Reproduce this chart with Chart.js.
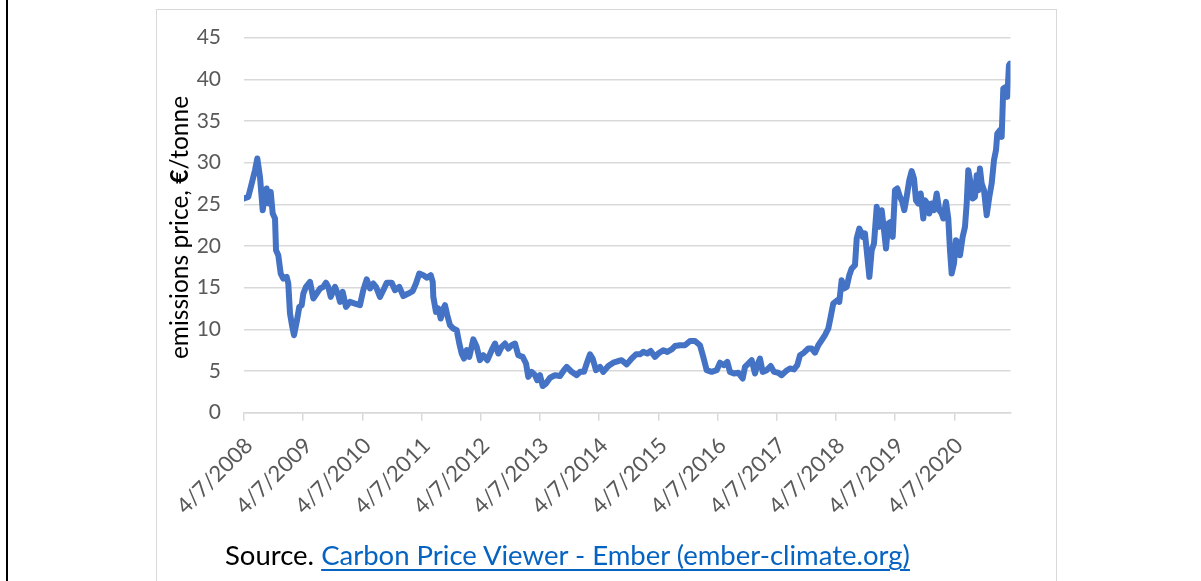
<!DOCTYPE html>
<html><head><meta charset="utf-8">
<script src="https://cdn.jsdelivr.net/npm/chart.js@4.4.1/dist/chart.umd.min.js"></script>
<style>
html,body{margin:0;padding:0;background:#fff;width:1201px;height:581px;overflow:hidden;font-family:Lato,sans-serif;}
#leftline{position:absolute;left:6px;top:0;width:2px;height:581px;background:#000;}
#frame{position:absolute;left:156px;top:9px;width:901px;height:640px;border:1px solid #d9d9d9;box-sizing:border-box;}
#source{position:absolute;left:225px;top:541px;font-size:27.5px;line-height:1;color:#000;white-space:nowrap;font-family:Lato,sans-serif;}
#source a{color:#0563C1;text-decoration:underline;text-underline-offset:4px;text-decoration-thickness:2px;}
#c{position:absolute;left:0;top:0;}
</style></head>
<body>
<div id="leftline"></div>
<div id="frame"></div>
<canvas id="c" width="1201" height="581"></canvas>
<div id="source">Source. <a href="#">Carbon Price Viewer - Ember (ember-climate.org)</a></div>
<script>
// Tick labels (one per year, anniversary of the first date)
const tickLabels = ['4/7/2008','4/7/2009','4/7/2010','4/7/2011','4/7/2012','4/7/2013','4/7/2014','4/7/2015','4/7/2016','4/7/2017','4/7/2018','4/7/2019','4/7/2020'];
// Decimal-year dates of the price points
const dates = [
2008.265,2008.338,2008.395,2008.451,2008.490,2008.535,2008.581,2008.615,2008.648,2008.682,2008.716,2008.750,2008.789,2008.806,2008.844,2008.885,2008.929,2008.986,2009.013,2009.042,2009.081,2009.110,2009.155,2009.199,2009.240,2009.267,2009.312,2009.380,2009.436,2009.493,2009.549,2009.605,2009.650,2009.689,2009.730,2009.802,2009.858,2009.887,2009.932,2009.988,2010.056,2010.140,2010.224,2010.280,2010.338,2010.393,2010.449,2010.495,2010.562,2010.618,2010.676,2010.760,2010.816,2010.888,2010.956,
2011.040,2011.115,2011.170,2011.226,2011.294,2011.351,2011.419,2011.453,2011.463,2011.508,2011.547,2011.588,2011.621,2011.660,2011.699,2011.745,2011.800,2011.858,2011.902,2011.942,2011.981,2012.027,2012.071,2012.138,2012.196,2012.251,2012.307,2012.375,2012.449,2012.505,2012.561,2012.618,2012.674,2012.730,2012.787,2012.843,2012.898,2012.973,2013.029,2013.067,2013.125,2013.181,2013.219,2013.265,2013.311,2013.366,2013.434,2013.518,2013.603,2013.670,
2013.716,2013.800,2013.885,2013.941,2014.008,2014.054,2014.110,2014.155,2014.211,2014.279,2014.334,2014.419,2014.503,2014.588,2014.645,2014.730,2014.814,2014.887,2014.954,2015.010,2015.078,2015.135,2015.208,2015.263,2015.348,2015.415,2015.490,2015.545,2015.630,2015.714,2015.799,2015.883,2015.968,2016.023,2016.081,2016.165,2016.250,
2016.306,2016.373,2016.429,2016.474,2016.542,2016.615,2016.689,2016.728,2016.784,2016.841,2016.897,2016.936,2016.981,2017.027,2017.094,2017.162,2017.218,2017.290,2017.348,2017.420,2017.488,2017.556,2017.611,2017.657,2017.724,2017.797,2017.855,2017.910,2017.966,2018.023,2018.079,2018.135,2018.175,2018.219,2018.287,2018.321,2018.361,2018.400,2018.446,2018.490,2018.530,2018.586,2018.615,2018.659,2018.699,2018.716,2018.755,2018.795,2018.829,2018.868,2018.907,2018.953,2018.996,
2019.037,2019.076,2019.110,2019.148,2019.189,2019.223,2019.262,2019.301,2019.346,2019.385,2019.419,2019.459,2019.503,2019.544,2019.583,2019.616,2019.655,2019.696,2019.740,2019.768,2019.807,2019.841,2019.881,2019.920,2019.966,2020.010,2020.050,2020.078,2020.123,2020.162,2020.191,2020.219,2020.258,2020.292,2020.331,2020.360,2020.405,2020.444,2020.473,2020.500,2020.540,2020.574,2020.613,2020.642,2020.669,2020.697,2020.726,2020.765,2020.811,2020.855,2020.895,2020.934,2020.968,2020.990,2021.035,2021.064,2021.091,2021.137,2021.159,2021.187,2021.204
];
// Emissions price, EUR/tonne
const prices = [
25.7,25.9,27.5,29.1,30.5,28.3,24.3,25.9,26.9,25.1,26.5,23.9,23.3,19.5,18.9,16.7,16.1,16.3,15.5,11.9,10.3,9.3,10.9,12.7,12.9,14.3,15.1,15.7,13.7,14.3,14.9,15.1,15.6,15.1,13.9,15.1,14.1,13.3,14.5,12.7,13.3,13.1,12.9,14.7,16.0,14.9,15.5,15.1,13.9,14.7,15.6,15.6,14.7,15.1,14.0,
14.3,14.6,15.5,16.7,16.5,16.2,16.5,15.7,13.9,12.1,12.5,11.3,12.3,12.9,11.7,10.5,10.1,9.9,8.3,7.1,6.5,7.5,6.7,8.8,7.9,6.3,6.9,6.3,7.5,8.3,7.1,7.9,8.3,7.7,8.1,8.3,6.9,6.7,5.9,4.3,4.9,4.5,3.9,4.5,3.2,3.5,4.2,4.5,4.4,5.1,
5.5,4.9,4.5,4.9,4.9,5.9,7.0,6.5,5.1,5.5,4.9,5.6,6.0,6.2,6.3,5.8,6.5,7.0,7.0,7.3,7.1,7.4,6.7,7.1,7.5,7.3,7.6,8.0,8.1,8.1,8.6,8.6,8.1,6.7,5.1,4.9,5.1,
6.0,5.7,6.1,4.9,4.7,4.8,4.1,5.5,5.9,6.3,4.7,5.7,6.5,4.9,5.1,5.6,4.9,4.8,4.5,5.0,5.3,5.2,5.7,6.9,7.2,7.7,7.7,7.2,8.1,8.7,9.3,10.1,11.5,13.1,13.5,13.3,15.9,14.9,15.1,16.5,17.3,17.7,20.9,22.1,21.5,21.1,21.5,18.7,16.3,19.5,20.3,24.7,22.3,
24.3,21.9,19.7,22.7,22.9,21.1,26.7,26.9,25.9,25.3,24.3,25.9,27.9,29.0,28.1,25.5,25.1,26.3,23.3,25.5,25.1,23.9,25.1,24.3,26.3,24.3,23.9,23.3,25.3,23.3,19.5,16.7,17.9,20.7,20.3,18.9,21.1,22.3,25.1,29.1,27.5,25.7,25.9,28.5,26.7,29.3,27.5,26.7,23.7,25.9,27.5,30.3,31.5,33.5,33.9,33.1,38.9,39.1,37.9,41.7,41.9
];
const yTitle = ['emissions price, ', '€', '/tonne'];

const START = 2008.265;
const END = 2021.213;
const points = dates.map((d, i) => ({x: d, y: prices[i]}));
const FONT = 'Lato, "Open Sans", sans-serif';

const yTitlePlugin = {
  id: 'yTitle',
  afterDraw(chart) {
    const ctx = chart.ctx;
    ctx.save();
    const fonts = ['400 24.5px ' + FONT, '700 24.5px ' + FONT, '400 24.5px ' + FONT];
    let widths = yTitle.map((t, i) => { ctx.font = fonts[i]; return ctx.measureText(t).width; });
    const total = widths.reduce((a, b) => a + b, 0);
    ctx.translate(188, 227.5);
    ctx.rotate(-Math.PI / 2);
    ctx.fillStyle = '#000';
    ctx.textBaseline = 'alphabetic';
    ctx.textAlign = 'left';
    let x = -total / 2;
    yTitle.forEach((t, i) => { ctx.font = fonts[i]; ctx.fillText(t, x, 0); x += widths[i]; });
    ctx.restore();
  }
};

new Chart(document.getElementById('c'), {
  type: 'line',
  data: {
    datasets: [{
      data: points,
      borderColor: '#4472C4',
      borderWidth: 6,
      pointRadius: 0,
      tension: 0,
      borderJoinStyle: 'round',
      borderCapStyle: 'round',
      fill: false
    }]
  },
  options: {
    responsive: false,
    animation: false,
    events: [],
    layout: {padding: {top: 37.7, right: 190.5, bottom: 50, left: 0}},
    plugins: {legend: {display: false}, tooltip: {enabled: false}},
    scales: {
      x: {
        type: 'linear',
        min: START,
        max: END,
        afterBuildTicks(scale) {
          scale.ticks = tickLabels.map((l, i) => ({value: START + i}));
        },
        afterFit(scale) { scale.height = 581 - 50 - 412.7; },
        grid: {display: true, drawOnChartArea: false, drawTicks: true, tickLength: 8, color: '#d9d9d9', lineWidth: 1.5},
        border: {display: true, color: '#d9d9d9', width: 1.5},
        ticks: {
          autoSkip: false, maxRotation: 45, minRotation: 45, padding: 12, labelOffset: 5,
          color: '#595959', font: {family: FONT, size: 22},
          callback: (v, i) => tickLabels[i]
        }
      },
      y: {
        min: 0, max: 45,
        afterFit(scale) { scale.width = 244; },
        grid: {color: '#d9d9d9', lineWidth: 1.5, drawTicks: false},
        border: {display: false},
        ticks: {stepSize: 5, padding: 23, color: '#595959', font: {family: FONT, size: 21}}
      }
    }
  },
  plugins: [yTitlePlugin]
});
</script>
</body></html>
